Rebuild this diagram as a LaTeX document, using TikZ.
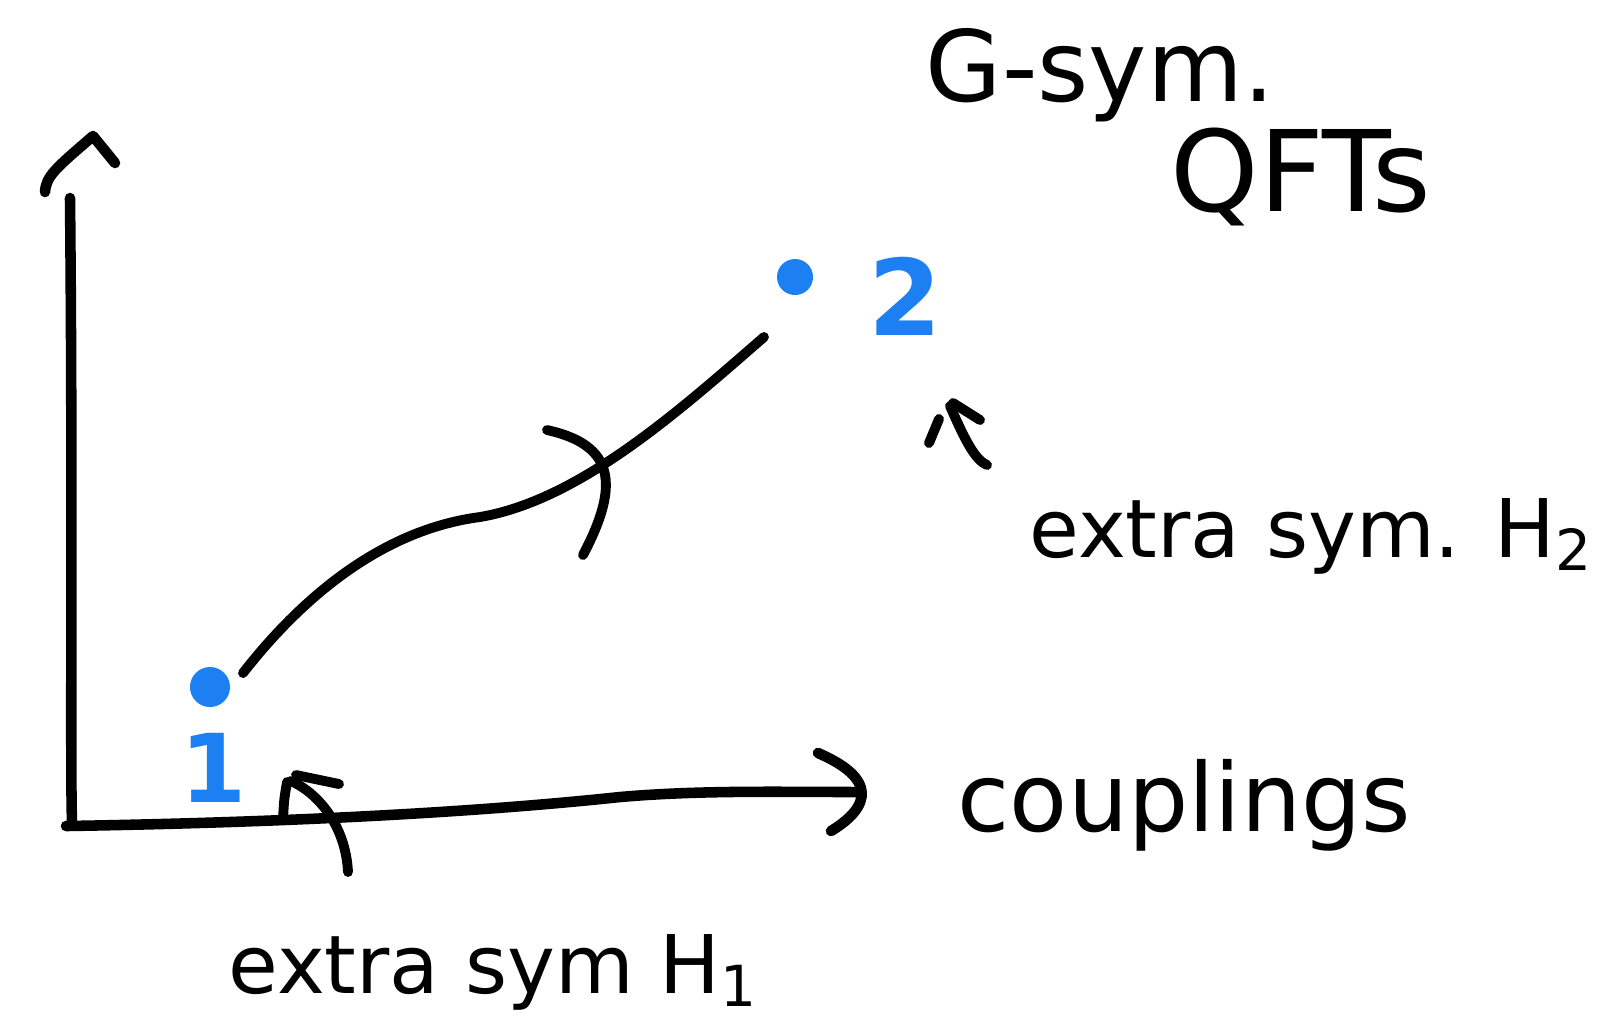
\documentclass[tikz,border=0pt]{standalone}
\usepackage{fontspec}
\setmainfont{DejaVu Sans}
\usepackage{xcolor}
\usetikzlibrary{calc}
\definecolor{penblue}{RGB}{28,128,242}

\begin{document}
\begin{tikzpicture}[x=0.01cm, y=-0.01cm,
    hand/.style={line width=2.8pt, line cap=round, line join=round},
    axis/.style={line width=3pt, line cap=round, line join=round},
    lbl/.style={inner sep=0pt, anchor=base west},
    dot/.style={circle, fill=penblue, inner sep=0pt}]
    \useasboundingbox (0,0) rectangle (1613,1032);

    % labels
    \node [lbl, font=\fontsize{28}{34}\selectfont] (gsym) at (925,101) {G-sym.};
    \node [lbl, font=\fontsize{32}{38}\selectfont] (qfts) at (1170,211) {QFTs};
    \node [lbl, font=\fontsize{23}{28}\selectfont] (ext2) at (1029,557) {extra sym. H\textsubscript{2}};
    \node [lbl, font=\fontsize{27}{32}\selectfont] (coup) at (957,831) {couplings};
    \node [lbl, font=\fontsize{23}{28}\selectfont] (ext1) at (228,993) {extra sym H\textsubscript{1}};

    % the two theories
    \node [dot, minimum size=0.4cm] (p1) at (210,687) {};
    \node [dot, minimum size=0.36cm] (p2) at (795,277) {};
    \node [lbl, text=penblue, font=\bfseries\fontsize{27}{30}\selectfont] (n1) at (180,802) {1};
    \node [lbl, text=penblue, font=\bfseries\fontsize{30}{36}\selectfont] (n2) at (868,335) {2};

    % axes
    \coordinate (orig) at (72,822);
    \coordinate (ytop) at (70,198);
    \coordinate (xend) at (858,792);
    \draw [axis] (ytop) .. controls (73,500) and (70,760) .. (orig);
    \draw [axis] (45,192) .. controls (46,176) and (56,168) .. (93,136) -- (115,163);
    \draw [axis] (66,826) .. controls (250,823) and (450,815) .. (620,797)
        .. controls (700,790) and (780,792) .. (xend);
    \draw [axis] (818,753) .. controls (876,778) and (872,806) .. (831,831);

    % flow from 1 to 2
    \draw [hand] ([shift={(33,-14)}]p1.center) .. controls (300,600) and (380,530) .. (480,517)
        .. controls (580,500) and (680,410) .. ([shift={(-31,60)}]p2.center);
    \draw [hand] (547,430) .. controls (615,445) and (620,485) .. (583,555);

    % pointer to 2
    \coordinate (tip2) at (950,406);
    \coordinate (tail2) at (987,465);
    \draw [hand] (tail2) .. controls (975,460) and (965,440) .. (tip2);
    \draw [hand] (953,403) -- (980,420);
    \draw [hand] (939,419) -- (929,443);

    % pointer to 1
    \coordinate (tip1) at (291,781);
    \coordinate (tail1) at (348,872);
    \draw [hand] (tail1) .. controls (346,830) and (322,795) .. (tip1);
    \draw [hand] (296,775) -- (339,784);
    \draw [hand] (287,782) .. controls (284,800) .. (283,820);
\end{tikzpicture}
\end{document}
